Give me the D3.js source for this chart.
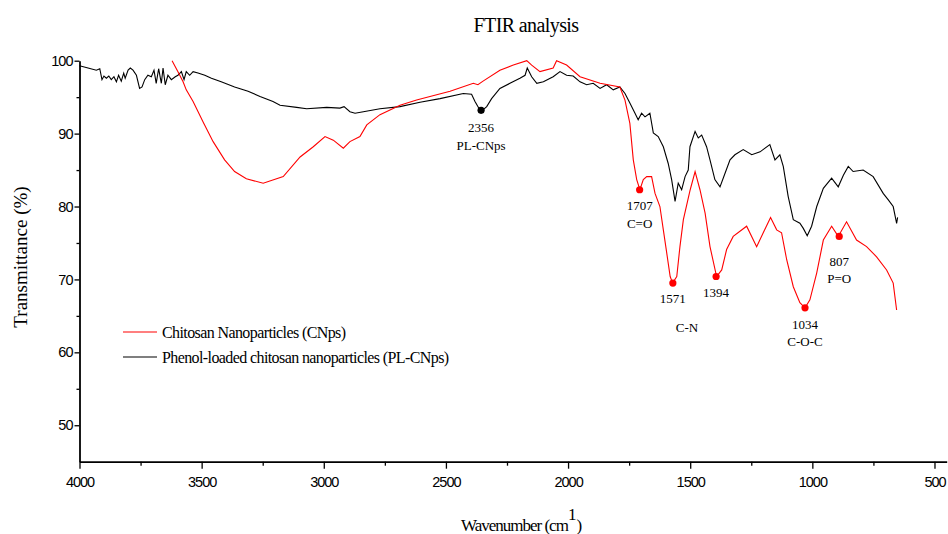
<!DOCTYPE html>
<html>
<head>
<meta charset="utf-8">
<script src="https://cdn.jsdelivr.net/npm/d3@7"></script>
<style>
  body { margin: 0; background: #fff; }
  svg { display: block; }
  .tick text { font-family: "Liberation Sans", Arial, sans-serif; font-size: 14.5px; letter-spacing: -1px; fill: #000; }
  .serif { font-family: "Liberation Serif", "Times New Roman", serif; fill: #000; }
</style>
</head>
<body>
<div class="ftir-chart"></div>
<script>
(function(){
  'use strict';

  // wavenumber (cm-1) / transmittance (%)
  var plWn = [4000,3965,3931,3917,3908,3900,3890,3880,3870,3859,
    3849,3840,3829,3819,3813,3801,3792,3781,3767,3754,
    3744,3733,3720,3706,3695,3686,3676,3665,3658,3649,
    3638,3624,3608,3597,3583,3572,3563,3549,3535,3515,
    3487,3460,3420,3365,3310,3261,3208,3179,3111,3070,
    2988,2934,2917,2893,2872,2838,2770,2688,2606,2524,
    2429,2395,2381,2357,2333,2313,2279,2238,2197,2176,
    2167,2149,2128,2101,2061,2033,2006,1979,1951,1924,
    1897,1869,1842,1815,1788,1767,1747,1726,1713,1699,
    1685,1665,1651,1631,1610,1590,1576,1562,1549,1535,
    1521,1508,1501,1480,1467,1453,1433,1419,1399,1378,
    1357,1337,1317,1283,1248,1214,1174,1153,1133,1119,
    1099,1078,1051,1037,1021,1003,982,955,921,894,
    873,853,833,792,751,710,689,669,655,651];
  var plT = [99.3,99.0,98.7,98.9,97.4,97.9,97.6,97.9,97.4,97.8,
    97.1,98.0,97.2,98.3,97.6,98.7,99.0,98.7,98.0,96.2,
    96.4,97.4,98.0,97.8,98.7,96.9,98.9,96.9,99.0,96.7,
    98.0,97.4,97.8,98.0,98.5,97.4,98.5,98.0,98.5,98.3,
    98.0,97.6,97.1,96.4,95.8,95.1,94.4,93.9,93.6,93.4,
    93.6,93.5,93.7,93.0,92.8,93.0,93.4,93.7,94.3,94.8,
    95.5,95.4,94.4,93.0,93.7,94.8,96.2,96.9,97.6,98.0,
    99.0,97.8,96.9,97.1,97.8,98.5,98.0,97.9,97.1,96.7,
    96.9,96.2,96.7,96.0,96.4,95.5,94.2,92.8,91.9,92.8,
    92.3,92.8,90.1,89.6,88.2,85.9,83.7,80.7,83.2,82.3,
    84.1,85.0,88.2,90.3,89.4,89.8,88.2,86.4,83.7,82.7,
    84.6,86.4,87.1,87.8,87.1,87.5,88.5,86.4,87.1,85.5,
    81.4,78.2,77.7,77.0,76.0,77.3,80.0,82.5,83.9,82.7,
    84.3,85.5,84.8,85.0,84.1,81.8,80.9,80.0,77.7,78.5];

  var cnWn = [3621,3597,3576,3563,3535,3494,3453,3406,3365,3317,
    3248,3166,3097,3043,2995,2961,2920,2893,2852,2824,
    2770,2688,2620,2483,2388,2369,2348,2279,2224,2169,
    2149,2115,2061,2047,2006,1951,1869,1788,1767,1747,
    1733,1719,1706,1692,1678,1658,1644,1624,1610,1596,
    1582,1572,1555,1542,1528,1500,1480,1460,1439,1419,
    1392,1371,1351,1324,1269,1228,1201,1171,1146,1126,
    1105,1078,1051,1030,1010,982,955,921,894,860,
    819,778,737,696,669,655];
  var cnT = [100.0,98.5,97.1,96.0,94.4,91.6,88.9,86.4,84.8,83.8,
    83.2,84.1,86.8,88.2,89.6,89.1,88.0,88.9,89.6,91.2,
    92.6,93.9,94.6,95.8,96.9,96.7,97.2,98.7,99.4,100.0,
    99.4,98.5,99.0,100.0,99.4,97.8,96.9,96.4,94.6,91.4,
    86.4,83.7,82.3,83.7,84.1,84.1,81.8,80.0,76.8,73.6,
    70.4,69.5,70.4,74.5,78.2,82.3,84.8,82.3,79.1,74.5,
    70.4,71.3,74.1,75.9,77.3,74.5,76.4,78.5,76.8,76.4,
    72.7,69.0,66.8,66.1,67.2,70.9,75.4,77.3,75.9,77.9,
    75.4,74.5,73.1,71.3,69.5,65.8];

  // marked bands
  var peakWn = [2356, 1707, 1571, 1394, 1030, 890];
  var peakT = [93.2, 82.3, 69.5, 70.4, 66.1, 75.9];
  var peakText = ['2356', '1707', '1571', '1394', '1034', '807'];
  var peakBond = ['PL-CNps', 'C=O', '', '', 'C-O-C', 'P=O'];
  var peakSeries = ['pl', 'cn', 'cn', 'cn', 'cn', 'cn'];

  var noteWn = [1513];
  var noteT = [63.4];
  var noteText = ['C-N'];

  var xTicks = [4000, 3500, 3000, 2500, 2000, 1500, 1000, 500];
  var xMinor = [3750, 3250, 2750, 2250, 1750, 1250, 750];
  var yTicks = [50, 60, 70, 80, 90, 100];
  var yMinor = [55, 65, 75, 85, 95];

  var seriesName = ['Chitosan Nanoparticles (CNps)', 'Phenol-loaded chitosan nanoparticles (PL-CNps)'];

  var colour = { cn: '#ff0000', pl: '#000000' };

  var W = 948, H = 534;
  var svg = d3.select('.ftir-chart').append('svg').attr('width', W).attr('height', H);

  var x = d3.scaleLinear().domain([4000, 450]).range([79.5, 946.7]);
  var y = d3.scaleLinear().domain([45, 100]).range([461.7, 60.7]);

  // axes
  var xAxis = svg.append('g').attr('transform', 'translate(0,461.7)')
    .call(d3.axisBottom(x).tickValues(xTicks).tickSize(7).tickSizeOuter(0).tickPadding(8).tickFormat(d3.format('d')));
  svg.append('g').attr('transform', 'translate(0,461.7)')
    .call(d3.axisBottom(x).tickValues(xMinor).tickSize(4).tickSizeOuter(0).tickFormat(''))
    .select('.domain').remove();

  var yAxis = svg.append('g').attr('transform', 'translate(79.5,0)')
    .call(d3.axisLeft(y).tickValues(yTicks).tickSize(5).tickSizeOuter(0).tickPadding(2));
  svg.append('g').attr('transform', 'translate(79.5,0)')
    .call(d3.axisLeft(y).tickValues(yMinor).tickSize(3).tickSizeOuter(0).tickFormat(''))
    .select('.domain').remove();

  svg.selectAll('.domain').attr('stroke', '#000').attr('stroke-width', 1.8);
  svg.selectAll('.tick line').attr('stroke', '#000').attr('stroke-width', 1.3);

  // spectra
  var line = d3.line().x(function(d){ return x(d[0]); }).y(function(d){ return y(d[1]); });

  svg.append('path').datum(d3.zip(plWn, plT))
    .attr('d', line).attr('fill', 'none').attr('stroke', colour.pl).attr('stroke-width', 1.1);
  svg.append('path').datum(d3.zip(cnWn, cnT))
    .attr('d', line).attr('fill', 'none').attr('stroke', colour.cn).attr('stroke-width', 1.1);

  // band markers
  var labelGap = [22, 20.5, 20, 20, 21, 29.5];
  var peaks = svg.append('g').selectAll('g').data(d3.range(peakWn.length)).enter().append('g');

  peaks.append('circle')
    .attr('cx', function(i){ return x(peakWn[i]); })
    .attr('cy', function(i){ return y(peakT[i]); })
    .attr('r', 3.6)
    .attr('fill', function(i){ return colour[peakSeries[i]]; });

  peaks.append('text').attr('class', 'serif')
    .attr('x', function(i){ return x(peakWn[i]); })
    .attr('y', function(i){ return y(peakT[i]) + labelGap[i]; })
    .attr('text-anchor', 'middle').style('font-size', '13px')
    .text(function(i){ return peakText[i]; });

  peaks.append('text').attr('class', 'serif')
    .attr('x', function(i){ return x(peakWn[i]); })
    .attr('y', function(i){ return y(peakT[i]) + labelGap[i] + 17.5; })
    .attr('text-anchor', 'middle').style('font-size', '13px')
    .text(function(i){ return peakBond[i]; });

  svg.append('g').selectAll('text').data(d3.range(noteWn.length)).enter().append('text')
    .attr('class', 'serif')
    .attr('x', function(i){ return x(noteWn[i]); })
    .attr('y', function(i){ return y(noteT[i]) + 4.5; })
    .attr('text-anchor', 'middle').style('font-size', '13px')
    .text(function(i){ return noteText[i]; });

  // legend
  var legend = svg.append('g').attr('transform', 'translate(123,332)');
  var legendKeys = ['cn', 'pl'];
  legendKeys.forEach(function(k, i){
    legend.append('line').attr('x1', 0).attr('x2', 34).attr('y1', i * 25).attr('y2', i * 25)
      .attr('stroke', colour[k]).attr('stroke-width', 1.1);
    legend.append('text').attr('class', 'serif')
      .attr('x', 39).attr('y', i * 25 + 5.5)
      .style('font-size', '16px').style('letter-spacing', '-0.6px')
      .text(seriesName[i]);
  });

  // titles
  svg.append('text').attr('class', 'serif')
    .attr('x', 526).attr('y', 32).attr('text-anchor', 'middle')
    .style('font-size', '20px').style('letter-spacing', '-0.6px')
    .text('FTIR analysis');

  svg.append('text').attr('class', 'serif')
    .attr('transform', 'translate(27,257) rotate(-90)').attr('text-anchor', 'middle')
    .style('font-size', '19px')
    .text('Transmittance (%)');

  var xt = svg.append('text').attr('class', 'serif')
    .attr('x', 461).attr('y', 531)
    .style('font-size', '17px').style('letter-spacing', '-1px');
  xt.append('tspan').text('Wavenumber (cm');
  xt.append('tspan').attr('dy', -11).style('letter-spacing', '0px').text('1');
  xt.append('tspan').attr('dy', 11).text(')');

})();
</script>
</body>
</html>
